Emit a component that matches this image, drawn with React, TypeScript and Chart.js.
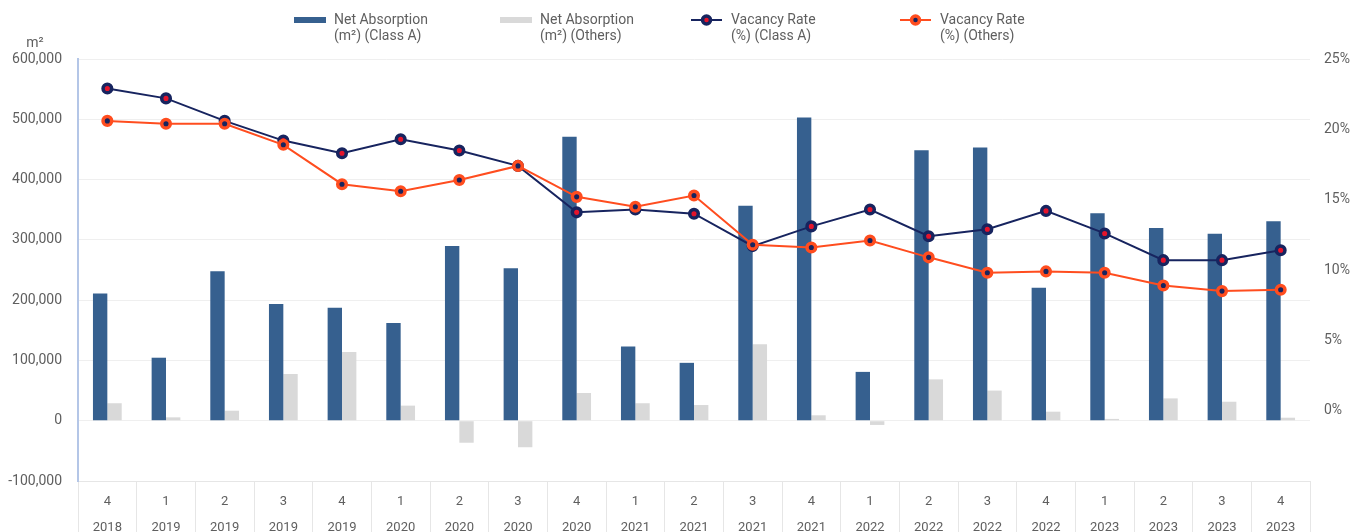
import React, { useEffect, useRef } from 'react';
import { Chart, registerables } from 'chart.js';

Chart.register(...registerables);

const quarters = ['4', '1', '2', '3', '4', '1', '2', '3', '4', '1', '2', '3', '4', '1', '2', '3', '4', '1', '2', '3', '4'];
const years = ['2018', '2019', '2019', '2019', '2019', '2020', '2020', '2020', '2020', '2021', '2021', '2021', '2021', '2022', '2022', '2022', '2022', '2023', '2023', '2023', '2023'];

const absorptionClassA = [211000, 104500, 247800, 193600, 187400, 162000, 290000, 253000, 471000, 123000, 96000, 356600, 503000, 81000, 448500, 453000, 220600, 344000, 319600, 310000, 331000];
const absorptionOthers = [29000, 5600, 16600, 77500, 114000, 25000, -36500, -44000, 46000, 29000, 26000, 126700, 9000, -7000, 68600, 50000, 15000, 3000, 37000, 31500, 5000];
const vacancyClassA = [22.9, 22.2, 20.6, 19.2, 18.3, 19.3, 18.5, 17.4, 14.1, 14.3, 14.0, 11.7, 13.1, 14.3, 12.4, 12.9, 14.2, 12.6, 10.7, 10.7, 11.4];
const vacancyOthers = [20.6, 20.4, 20.4, 18.9, 16.1, 15.6, 16.4, 17.4, 15.2, 14.5, 15.3, 11.8, 11.6, 12.1, 10.9, 9.8, 9.9, 9.8, 8.9, 8.5, 8.6];

const seriesLabels = [
  ['Net Absorption', '(m²) (Class A)'],
  ['Net Absorption', '(m²) (Others)'],
  ['Vacancy Rate', '(%) (Class A)'],
  ['Vacancy Rate', '(%) (Others)'],
];

const leftTicks = { min: -100000, max: 600000, step: 100000 };
const rightTicks = { min: -5, max: 25, step: 5 };

const NAVY = '#17245f';
const RED = '#e5142b';
const ORANGE = '#ff4d1f';
const BLUE = '#36608f';
const GREY = '#d9d9d9';
const TEXT = '#5f5f5f';
const FONT = 'Roboto';

// legend layout (offsets of each item from the plot's left edge)
const legendOffsets = [216, 422, 613, 822];
const legendKinds = ['bar', 'bar', 'line', 'line'];
const legendColors = [[BLUE, BLUE], [GREY, GREY], [NAVY, RED], [ORANGE, NAVY]];

const customLegend = {
  id: 'customLegend',
  afterDraw(chart: any) {
    const { ctx, chartArea } = chart;
    ctx.save();
    ctx.font = `14px ${FONT}`;
    ctx.fillStyle = TEXT;
    ctx.textAlign = 'left';
    ctx.textBaseline = 'middle';
    const y1 = 12;
    const y2 = 28.5;
    seriesLabels.forEach((lines, i) => {
      const x0 = chartArea.left + legendOffsets[i];
      const [c1, c2] = legendColors[i];
      if (legendKinds[i] === 'bar') {
        ctx.fillStyle = c1;
        ctx.fillRect(x0, y1 - 3, 32, 6);
      } else {
        ctx.strokeStyle = c1;
        ctx.lineWidth = 2;
        ctx.beginPath();
        ctx.moveTo(x0, y1);
        ctx.lineTo(x0 + 31, y1);
        ctx.stroke();
        ctx.beginPath();
        ctx.arc(x0 + 15.5, y1, 4, 0, Math.PI * 2);
        ctx.fillStyle = c2;
        ctx.fill();
        ctx.lineWidth = 3.5;
        ctx.stroke();
      }
      ctx.fillStyle = TEXT;
      ctx.fillText(lines[0], x0 + 40, y1);
      ctx.fillText(lines[1], x0 + 40, y2);
    });
    ctx.font = `14px ${FONT}`;
    ctx.textAlign = 'center';
    ctx.fillText('m²', chartArea.left - 43, chartArea.top - 16);
    ctx.restore();
  },
};

export default function App() {
  const ref = useRef<HTMLCanvasElement>(null);

  useEffect(() => {
    if (!ref.current) return;
    const chart = new Chart(ref.current, {
      type: 'bar',
      data: {
        labels: quarters.map((q, i) => `${q} ${years[i]}`),
        datasets: [
          {
            type: 'bar',
            label: seriesLabels[0].join(' '),
            data: absorptionClassA,
            backgroundColor: BLUE,
            yAxisID: 'y',
            order: 2,
            barPercentage: 1,
            categoryPercentage: 0.49,
          },
          {
            type: 'bar',
            label: seriesLabels[1].join(' '),
            data: absorptionOthers,
            backgroundColor: GREY,
            yAxisID: 'y',
            order: 3,
            barPercentage: 1,
            categoryPercentage: 0.49,
          },
          {
            type: 'line',
            label: seriesLabels[2].join(' '),
            data: vacancyClassA,
            borderColor: NAVY,
            borderWidth: 2,
            pointBackgroundColor: RED,
            pointBorderColor: NAVY,
            pointRadius: 4.3,
            pointBorderWidth: 3.5,
            yAxisID: 'y1',
            order: 1,
            tension: 0,
          },
          {
            type: 'line',
            label: seriesLabels[3].join(' '),
            data: vacancyOthers,
            borderColor: ORANGE,
            borderWidth: 2,
            pointBackgroundColor: NAVY,
            pointBorderColor: ORANGE,
            pointRadius: 4.3,
            pointBorderWidth: 3.5,
            yAxisID: 'y1',
            order: 0,
            tension: 0,
          },
        ] as any,
      },
      options: {
        animation: false,
        responsive: true,
        maintainAspectRatio: false,
        layout: { padding: { top: 51 } },
        plugins: {
          tooltip: { enabled: false },
          legend: { display: false },
        },
        scales: {
          x: {
            grid: {
              offset: true,
              drawOnChartArea: false,
              color: '#e6e6e6',
              tickLength: 60,
            },
            border: { color: '#e6e6e6' },
            ticks: {
              padding: -52,
              autoSkip: false,
              maxRotation: 0,
              color: TEXT,
              font: { family: FONT, size: 13, lineHeight: 2 },
              callback: (_v: any, i: number) => [quarters[i], years[i]],
            },
            afterFit: (s: any) => {
              s.height = 67;
            },
          },
          y: {
            position: 'left',
            min: leftTicks.min,
            max: leftTicks.max,
            ticks: {
              stepSize: leftTicks.step,
              color: TEXT,
              padding: 16,
              font: { family: FONT, size: 14 },
              callback: (v: any) => Number(v).toLocaleString('en-US'),
            },
            grid: { color: '#efefef', drawTicks: false },
            border: { color: '#b4c6e7', width: 2 },
            afterFit: (s: any) => {
              s.width = 70;
            },
          },
          y1: {
            position: 'right',
            min: rightTicks.min,
            max: rightTicks.max,
            ticks: {
              stepSize: rightTicks.step,
              color: TEXT,
              padding: 14,
              font: { family: FONT, size: 14 },
              callback: (v: any) => (Number(v) < 0 ? '' : `${v}%`),
            },
            grid: { display: false, drawTicks: false },
            border: { display: false },
            afterFit: (s: any) => {
              s.width = 48;
            },
          },
        },
      } as any,
      plugins: [customLegend],
    });
    return () => chart.destroy();
  }, []);

  return (
    <div style={{ width: 1350, height: 540, position: 'relative' }}>
      <canvas ref={ref} />
    </div>
  );
}
